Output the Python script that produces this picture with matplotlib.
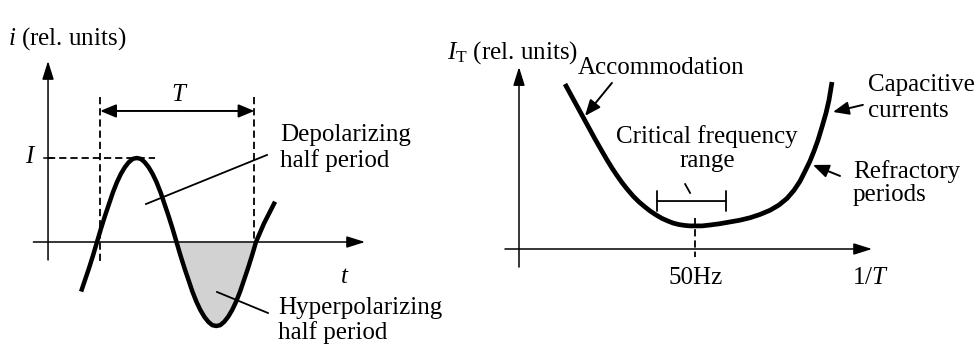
import matplotlib.pyplot as plt

plt.rcParams['font.family'] = ['Liberation Serif', 'DejaVu Serif']
plt.rcParams['mathtext.fontset'] = 'custom'
plt.rcParams['mathtext.rm'] = 'Liberation Serif'
plt.rcParams['mathtext.it'] = 'Liberation Serif:italic'

# --- left panel: stimulus current over time (t in periods, i relative to I)
t_wave = [-0.100, -0.075, -0.050, -0.025, 0.000, 0.025, 0.050, 0.075, 0.100,
          0.125, 0.150, 0.175, 0.200, 0.225, 0.250, 0.275, 0.300, 0.325,
          0.350, 0.375, 0.400, 0.425, 0.450, 0.475, 0.500, 0.525, 0.550,
          0.575, 0.600, 0.625, 0.650, 0.675, 0.700, 0.725, 0.750, 0.775,
          0.800, 0.825, 0.850, 0.875, 0.900, 0.925, 0.950, 0.975, 1.000,
          1.025, 1.050, 1.085, 1.120]
i_wave = [-0.59, -0.45, -0.31, -0.16, 0.00, 0.16, 0.31, 0.45, 0.59,
          0.71, 0.81, 0.89, 0.95, 0.99, 1.00, 0.99, 0.95, 0.89,
          0.81, 0.71, 0.59, 0.45, 0.31, 0.16, 0.00, -0.16, -0.31,
          -0.45, -0.59, -0.71, -0.81, -0.89, -0.95, -0.99, -1.00, -0.99,
          -0.95, -0.89, -0.81, -0.71, -0.59, -0.45, -0.31, -0.16, 0.00,
          0.11, 0.22, 0.35, 0.48]
period_marks = [0.02, 0.99]
peak_i = 1.0

# --- right panel: threshold current vs stimulus frequency (Hz)
freq = [13.07, 14.77, 16.48, 18.18, 19.89, 21.59, 23.30, 25.00, 26.42, 27.84,
        29.26, 30.68, 32.39, 34.09, 35.80, 37.22, 38.92, 40.63, 42.33, 43.75,
        45.45, 47.16, 48.58, 50.00, 51.99, 54.26, 57.10, 59.94, 62.78, 65.63,
        68.47, 71.31, 73.86, 76.14, 78.13, 79.83, 81.25, 82.67, 83.81, 84.94,
        86.08, 87.22, 88.07, 88.92]
i_thresh = [7.50, 7.00, 6.50, 6.00, 5.50, 5.00, 4.52, 4.05, 3.68, 3.34,
            3.02, 2.73, 2.41, 2.14, 1.91, 1.73, 1.55, 1.39, 1.27, 1.18,
            1.11, 1.07, 1.05, 1.05, 1.05, 1.09, 1.15, 1.23, 1.31, 1.42,
            1.57, 1.76, 2.00, 2.30, 2.67, 3.08, 3.53, 4.00, 4.45, 4.95,
            5.55, 6.18, 6.77, 7.59]
f_opt = 50
crit_range = [39.2, 58.8]

fig = plt.figure(figsize=(9.77, 3.52), dpi=100)
ax1 = fig.add_axes([0, 0, 420 / 977, 1])
ax2 = fig.add_axes([420 / 977, 0, 557 / 977, 1])
ax1.set_xlim(-97 / 159, (420 - 97) / 159)
ax1.set_ylim((242 - 352) / 84, 242 / 84)
ax2.set_xlim((420 - 519) / 3.52, (977 - 519) / 3.52)
ax2.set_ylim((249 - 352) / 22, 249 / 22)
for ax in (ax1, ax2):
    ax.axis('off')

fs = 18
axis_arrow = dict(arrowstyle='-|>,head_length=0.7,head_width=0.22', lw=1.1,
                  color='black', shrinkA=0, shrinkB=0, mutation_scale=16)
lead_arrow = dict(arrowstyle='-|>,head_length=0.6,head_width=0.25', lw=1.4,
                  color='black', shrinkA=0, shrinkB=0, mutation_scale=16)

# ---------- left panel ----------
ax1.annotate('', xy=(1.686, 0), xytext=(-0.40, 0), arrowprops=axis_arrow)
ax1.annotate('', xy=(-0.308, 2.155), xytext=(-0.308, -0.214), arrowprops=axis_arrow)

ax1.fill_between(t_wave, i_wave, 0,
                 where=[0.5 <= t <= 1.0 for t in t_wave],
                 color='#d2d2d2', lw=0, zorder=1)
ax1.plot(t_wave, i_wave, color='black', lw=3.2, solid_capstyle='butt',
         solid_joinstyle='round', zorder=3)

dash = dict(color='black', lw=1.3, dashes=(4, 2.2))
ax1.plot([period_marks[0]] * 2, [1.726, -0.238], **dash)
ax1.plot([period_marks[1]] * 2, [1.726, 0.0], **dash)
ax1.plot([-0.308, 0.365], [peak_i, peak_i], **dash)
ax1.plot([-0.335, -0.285], [peak_i, peak_i], color='black', lw=1.1)

ax1.annotate('', xy=(period_marks[0], 1.56), xytext=(0.5, 1.56), arrowprops=lead_arrow)
ax1.annotate('', xy=(period_marks[1], 1.56), xytext=(0.5, 1.56), arrowprops=lead_arrow)
ax1.text(0.522, 1.75, '$T$', fontsize=fs, ha='center', va='center')

ax1.text(-0.42, 1.01, '$I$', fontsize=fs, ha='center', va='center')
ax1.text(1.56, -0.42, '$t$', fontsize=fs, ha='center', va='center')
ax1.text(8 / 159 - 97 / 159, 2.42, '$i$ (rel. units)', fontsize=fs, ha='left', va='center')

ax1.plot([0.308, 1.069], [0.452, 1.036], color='black', lw=1.3)
ax1.text(1.151, 1.12, 'Depolarizing\nhalf period', fontsize=fs, ha='left',
         va='center', linespacing=1.2)
ax1.plot([0.755, 1.075], [-0.595, -0.845], color='black', lw=1.3)
ax1.text(1.138, -0.93, 'Hyperpolarizing\nhalf period', fontsize=fs, ha='left',
         va='center', linespacing=1.1, clip_on=False)

# ---------- right panel ----------
ax2.annotate('', xy=(100.3, 0), xytext=(-3.98, 0), arrowprops=axis_arrow)
ax2.annotate('', xy=(0, 8.27), xytext=(0, -0.82), arrowprops=axis_arrow)

ax2.plot(freq, i_thresh, color='black', lw=3.4, solid_capstyle='butt',
         solid_joinstyle='round', zorder=3)
ax2.plot([f_opt, f_opt], [1.41, -0.36], color='black', lw=1.3, dashes=(4, 2.2))

ax2.annotate('', xy=(crit_range[1], 2.18), xytext=(crit_range[0], 2.18),
             arrowprops=dict(arrowstyle='|-|,widthA=0.45,widthB=0.45', lw=1.3,
                             color='black', shrinkA=0, shrinkB=0, mutation_scale=16))
ax2.plot([47.2, 48.6], [2.95, 2.55], color='black', lw=1.3)
ax2.text(53.4, 4.55, 'Critical frequency\nrange', fontsize=fs, ha='center',
         va='center', linespacing=1.12)

ax2.text(50.3, -1.3, '50Hz', fontsize=fs, ha='center', va='center')
ax2.text(94.6, -1.3, '1/$T$', fontsize=fs, ha='left', va='center')
ax2.text(-20.5, 8.95, '$I_\\mathrm{T}$ (rel. units)', fontsize=fs, ha='left', va='center')

ax2.text(16.8, 8.23, 'Accommodation', fontsize=fs, ha='left', va='center')
ax2.annotate('', xy=(18.75, 6.05), xytext=(26.4, 7.55), arrowprops=lead_arrow)
ax2.text(99.1, 6.86, 'Capacitive\ncurrents', fontsize=fs, ha='left', va='center',
         linespacing=1.25)
ax2.annotate('', xy=(89.2, 6.23), xytext=(97.7, 6.55), arrowprops=lead_arrow)
ax2.text(94.9, 3.0, 'Refractory\nperiods', fontsize=fs, ha='left', va='center',
         linespacing=1.1)
ax2.annotate('', xy=(83.5, 3.82), xytext=(91.2, 3.32), arrowprops=lead_arrow)

fig.savefig('out.png', dpi=100)
